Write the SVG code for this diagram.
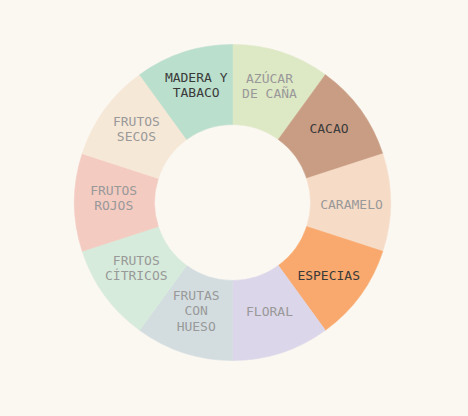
<svg xmlns="http://www.w3.org/2000/svg" width="468" height="416" viewBox="0 0 468 416">
<style>
.lbl{font-family:"DejaVu Sans Mono","Liberation Mono",monospace;font-size:13px;text-anchor:middle}
.lt{fill:#999999}
.dk{fill:#3a3a3a}
.seg{stroke-width:0.6}
</style>
<rect width="468" height="416" fill="#fbf7f1"/>
<g id="azucar">
<path class="seg" fill="#dde8c5" stroke="#dde8c5" d="M232.5 44.5 A158 158 0 0 1 325.37 74.68 L278.35 139.4 A78 78 0 0 0 232.5 124.5 Z"/>
<text class="lbl lt" x="269.5" y="83">AZÚCAR</text>
<text class="lbl lt" x="269.5" y="97.5">DE CAÑA</text>
</g>
<g id="cacao">
<path class="seg" fill="#c99d84" stroke="#c99d84" d="M325.37 74.68 A158 158 0 0 1 382.77 153.68 L306.68 178.4 A78 78 0 0 0 278.35 139.4 Z"/>
<text class="lbl dk" x="329" y="132.5">CACAO</text>
</g>
<g id="caramelo">
<path class="seg" fill="#f6dcc7" stroke="#f6dcc7" d="M382.77 153.68 A158 158 0 0 1 382.77 251.32 L306.68 226.6 A78 78 0 0 0 306.68 178.4 Z"/>
<text class="lbl lt" x="351.5" y="209">CARAMELO</text>
</g>
<g id="especias">
<path class="seg" fill="#f9a96d" stroke="#f9a96d" d="M382.77 251.32 A158 158 0 0 1 325.37 330.32 L278.35 265.6 A78 78 0 0 0 306.68 226.6 Z"/>
<text class="lbl dk" x="328.7" y="280">ESPECIAS</text>
</g>
<g id="floral">
<path class="seg" fill="#dbd6e9" stroke="#dbd6e9" d="M325.37 330.32 A158 158 0 0 1 232.5 360.5 L232.5 280.5 A78 78 0 0 0 278.35 265.6 Z"/>
<text class="lbl lt" x="269.5" y="315.7">FLORAL</text>
</g>
<g id="frutas-con-hueso">
<path class="seg" fill="#d3dde0" stroke="#d3dde0" d="M232.5 360.5 A158 158 0 0 1 139.63 330.32 L186.65 265.6 A78 78 0 0 0 232.5 280.5 Z"/>
<text class="lbl lt" x="196.2" y="300">FRUTAS</text>
<text class="lbl lt" x="196.2" y="315">CON</text>
<text class="lbl lt" x="196.2" y="330.5">HUESO</text>
</g>
<g id="frutos-citricos">
<path class="seg" fill="#d6ebdb" stroke="#d6ebdb" d="M139.63 330.32 A158 158 0 0 1 82.23 251.32 L158.32 226.6 A78 78 0 0 0 186.65 265.6 Z"/>
<text class="lbl lt" x="136.3" y="265.3">FRUTOS</text>
<text class="lbl lt" x="136.3" y="279.5">CÍTRICOS</text>
</g>
<g id="frutos-rojos">
<path class="seg" fill="#f4cbc1" stroke="#f4cbc1" d="M82.23 251.32 A158 158 0 0 1 82.23 153.68 L158.32 178.4 A78 78 0 0 0 158.32 226.6 Z"/>
<text class="lbl lt" x="113.7" y="195">FRUTOS</text>
<text class="lbl lt" x="113.7" y="210">ROJOS</text>
</g>
<g id="frutos-secos">
<path class="seg" fill="#f6e8d7" stroke="#f6e8d7" d="M82.23 153.68 A158 158 0 0 1 139.63 74.68 L186.65 139.4 A78 78 0 0 0 158.32 178.4 Z"/>
<text class="lbl lt" x="136.4" y="125.7">FRUTOS</text>
<text class="lbl lt" x="136.4" y="140.7">SECOS</text>
</g>
<g id="madera-y-tabaco">
<path class="seg" fill="#badfcc" stroke="#badfcc" d="M139.63 74.68 A158 158 0 0 1 232.5 44.5 L232.5 124.5 A78 78 0 0 0 186.65 139.4 Z"/>
<text class="lbl dk" x="196.2" y="82.3">MADERA Y</text>
<text class="lbl dk" x="196.2" y="97.3">TABACO</text>
</g>
<g id="connectors"></g>
</svg>
